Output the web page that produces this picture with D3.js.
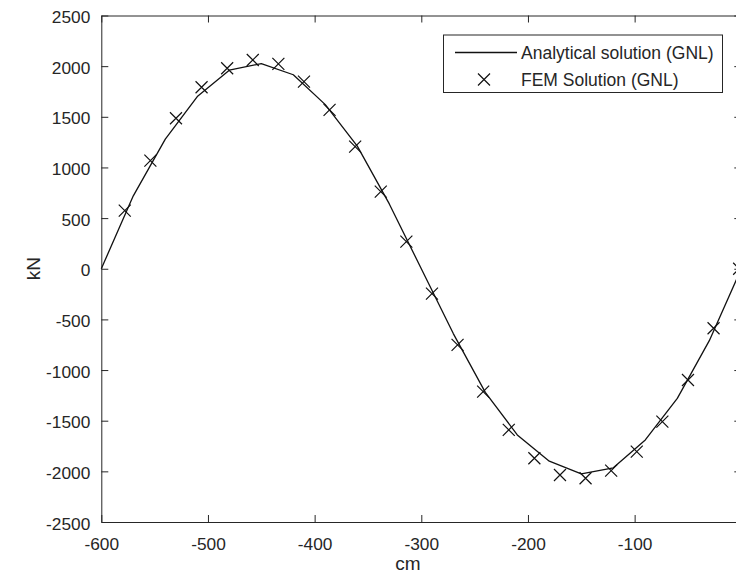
<!DOCTYPE html>
<html>
<head>
<meta charset="utf-8">
<script src="https://cdn.jsdelivr.net/npm/d3@7"></script>
<style>
html, body { margin: 0; padding: 0; background: #fff; overflow: hidden; }
svg { display: block; }
text { font-family: "Liberation Sans", Arial, Helvetica, sans-serif; fill: #262626; }
</style>
</head>
<body>
<svg id="chart" width="736" height="582"></svg>
<script>
// ---- data ----
const analyticalX = [-600, -570, -540, -510, -480, -450, -420, -390, -360, -330, -300,
                     -270, -240, -210, -180, -150, -120, -90, -60, -30, 0];
const analyticalY = [0, 720, 1280, 1700, 1960, 2025, 1915, 1620, 1210, 640, 0,
                     -640, -1220, -1640, -1900, -2025, -1965, -1690, -1280, -710, 0];
const femX = [-578, -554, -530, -506, -482, -458, -434, -410, -386, -362, -338, -314, -290,
              -266, -242, -218, -194, -170, -146, -122, -98, -74, -50, -26, -2];
const femY = [574, 1067, 1486, 1792, 1979, 2061, 2022, 1847, 1568, 1205, 761, 268, -245,
              -752, -1213, -1591, -1871, -2036, -2068, -1993, -1806, -1509, -1098, -587, 0];
const xTicks = [-600, -500, -400, -300, -200, -100, 0];
const xTickLabels = ["-600", "-500", "-400", "-300", "-200", "-100", ""];
const yTicks = [-2500, -2000, -1500, -1000, -500, 0, 500, 1000, 1500, 2000, 2500];
const yTickLabels = ["-2500", "-2000", "-1500", "-1000", "-500", "0", "500", "1000", "1500", "2000", "2500"];
const legendLabels = ["Analytical solution (GNL)", "FEM Solution (GNL)"];
const xLabel = "cm";
const yLabel = "kN";

// ---- layout ----
const plot = { left: 101.3, right: 741.3, top: 15.5, bottom: 522 };
const axisColor = "#262626";
const tickLen = 7;
const tickFont = 17.3;

const svg = d3.select("#chart");
const x = d3.scaleLinear().domain([-600, 0]).range([plot.left, plot.right]);
const y = d3.scaleLinear().domain([-2500, 2500]).range([plot.bottom, plot.top]);

// axes (MATLAB-like box with inward ticks)
const axBottom = d3.axisBottom(x).tickValues(xTicks).tickSizeInner(-tickLen).tickSizeOuter(0).tickPadding(0)
  .tickFormat((d, i) => xTickLabels[i]);
const axTop = d3.axisTop(x).tickValues(xTicks).tickSizeInner(-tickLen).tickSizeOuter(0).tickFormat("");
const axLeft = d3.axisLeft(y).tickValues(yTicks).tickSizeInner(-tickLen).tickSizeOuter(0).tickPadding(0)
  .tickFormat((d, i) => yTickLabels[i]);
const axRight = d3.axisRight(y).tickValues(yTicks).tickSizeInner(-tickLen).tickSizeOuter(0).tickFormat("");

function styleAxis(g) {
  g.select(".domain").attr("stroke", axisColor).attr("stroke-width", 1);
  g.selectAll(".tick line").attr("stroke", axisColor).attr("stroke-width", 1);
  g.selectAll(".tick text").attr("fill", axisColor)
    .style("font-family", '"Liberation Sans", Arial, Helvetica, sans-serif')
    .style("font-size", tickFont + "px");
}

const gB = svg.append("g").attr("transform", `translate(0,${plot.bottom})`).call(axBottom).call(styleAxis);
gB.selectAll(".tick text").attr("y", 27.5).attr("dy", null);
const gT = svg.append("g").attr("transform", `translate(0,${plot.top})`).call(axTop).call(styleAxis);
const gL = svg.append("g").attr("transform", `translate(${plot.left},0)`).call(axLeft).call(styleAxis);
gL.selectAll(".tick text").attr("x", -11).attr("dy", null).attr("y", 7);
const gR = svg.append("g").attr("transform", `translate(${plot.right},0)`).call(axRight).call(styleAxis);

// axis labels
svg.append("text").attr("x", 408).attr("y", 570).attr("text-anchor", "middle")
  .style("font-size", "19px").text(xLabel);
svg.append("text").attr("transform", `translate(40,${(plot.top + plot.bottom) / 2}) rotate(-90)`)
  .attr("text-anchor", "middle").style("font-size", "19px").text(yLabel);

// analytical line
const lineData = analyticalX.map((d, i) => [d, analyticalY[i]]);
svg.append("path").datum(lineData)
  .attr("fill", "none").attr("stroke", "#111").attr("stroke-width", 1.3)
  .attr("stroke-linejoin", "round")
  .attr("d", d3.line().x(d => x(d[0])).y(d => y(d[1])));

// FEM markers (x-crosses)
const ms = 6;
function crossPath(cx, cy, s) {
  return `M${cx - s},${cy - s}L${cx + s},${cy + s}M${cx - s},${cy + s}L${cx + s},${cy - s}`;
}
const femData = femX.map((d, i) => [d, femY[i]]);
svg.append("g").selectAll("path").data(femData).join("path")
  .attr("d", d => crossPath(x(d[0]), y(d[1]), ms))
  .attr("fill", "none").attr("stroke", "#111").attr("stroke-width", 1.2);

// legend
const leg = svg.append("g");
leg.append("rect").attr("x", 443.5).attr("y", 35).attr("width", 279).attr("height", 57.5)
  .attr("fill", "#fff").attr("stroke", axisColor).attr("stroke-width", 1);
leg.append("line").attr("x1", 455).attr("x2", 517).attr("y1", 52.5).attr("y2", 52.5)
  .attr("stroke", "#111").attr("stroke-width", 1.3);
leg.append("path").attr("d", crossPath(484, 79.5, ms)).attr("fill", "none")
  .attr("stroke", "#111").attr("stroke-width", 1.2);
leg.selectAll("text.lg").data(legendLabels).join("text").attr("class", "lg")
  .attr("x", 521).attr("y", (d, i) => 58.5 + i * 27)
  .style("font-size", "17.5px").text(d => d);
</script>
</body>
</html>
